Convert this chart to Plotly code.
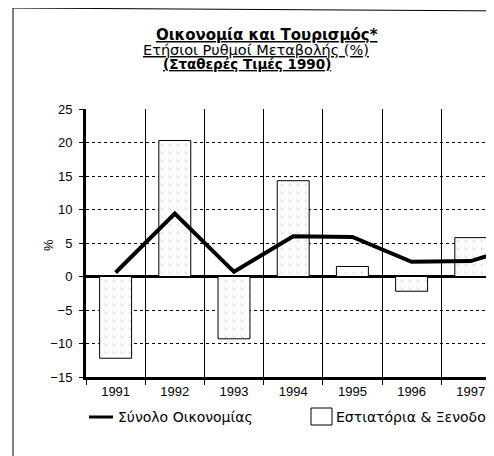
import plotly.graph_objects as go

# Data (annual % change, constant 1990 prices)
years = ["1991", "1992", "1993", "1994", "1995", "1996", "1997", "1998"]
economy_total = [0.6, 9.4, 0.7, 6.0, 5.9, 2.2, 2.3, 5.0]
hotels_restaurants = [-12.2, 20.3, -9.3, 14.3, 1.5, -2.2, 5.8, None]

y_ticks = [-15, -10, -5, 0, 5, 10, 15, 20, 25]
y_grid = [-10, -5, 5, 10, 15, 20]

FONT = "Liberation Sans, Arial, sans-serif"
WIDE = "DejaVu Sans, sans-serif"

# the page body has an 8px margin, so the figure sits 8px right/down in the window
OFF = 8
W, H = 494, 456
L, R, T, B = 86 - OFF, 0, 109 - OFF, H - (377 - OFF)
PW, PH = W - L - R, H - T - B
CAT_W = 59.2  # px per year on the scan


def px_x(px):
    # window pixel -> paper coordinate
    return (px - OFF - L) / PW


def px_y(py):
    return (H - B - (py - OFF)) / PH


fig = go.Figure()

fig.add_trace(
    go.Bar(
        x=years,
        y=hotels_restaurants,
        width=0.54,
        marker=dict(
            color="#fdfdfd",
            line=dict(color="black", width=1),
            pattern=dict(shape=".", fgcolor="#cfcfcf", bgcolor="#fdfdfd", size=8, solidity=0.1),
        ),
        showlegend=False,
    )
)

fig.add_trace(
    go.Scatter(
        x=years,
        y=economy_total,
        mode="lines",
        line=dict(color="black", width=4),
        showlegend=False,
    )
)

fig.update_xaxes(
    type="category",
    range=[-0.5, PW / CAT_W - 0.5],
    automargin=False,
    tickson="boundaries",
    showgrid=True,
    gridcolor="black",
    gridwidth=1,
    ticks="outside",
    ticklen=5,
    tickcolor="black",
    showline=True,
    linecolor="black",
    linewidth=3,
    tickfont=dict(family=FONT, size=13, color="black"),
    zeroline=False,
)

fig.update_yaxes(
    range=[-15, 25],
    automargin=False,
    tickvals=y_ticks,
    showgrid=False,
    ticks="outside",
    ticklen=4,
    tickcolor="black",
    showline=True,
    linecolor="black",
    linewidth=3,
    zeroline=True,
    zerolinecolor="black",
    zerolinewidth=3,
    tickfont=dict(family=FONT, size=13, color="black"),
    ticklabelstandoff=4,
    minor=dict(tickvals=y_grid, showgrid=True, gridcolor="black", gridwidth=1, griddash="dot", ticks=""),
)

# Outer frame of the scanned page
fig.add_shape(type="line", xref="paper", yref="paper",
              x0=px_x(13), x1=px_x(13), y0=px_y(8), y1=px_y(H + 20),
              line=dict(color="black", width=1))
fig.add_shape(type="line", xref="paper", yref="paper",
              x0=px_x(13), x1=px_x(W + 20), y0=px_y(8), y1=px_y(11),
              line=dict(color="black", width=1))

# Titles
titles = [
    ("<u><b>Οικονομία και Τουρισμός*</b></u>", 267, 35, 15),
    ("<u>Ετήσιοι Ρυθμοί Μεταβολής (%)</u>", 256, 50, 14.5),
    ("<u><b>(Σταθερές Τιμές 1990)</b></u>", 247, 64, 13.5),
]
for text, cx, cy, size in titles:
    fig.add_annotation(text=text, xref="paper", yref="paper", x=px_x(cx), y=px_y(cy),
                       xanchor="center", yanchor="middle", showarrow=False,
                       font=dict(family=WIDE, size=size, color="black"))

# Y axis label
fig.add_annotation(text="%", xref="paper", yref="paper", x=px_x(48), y=px_y(245),
                   xanchor="center", yanchor="middle", showarrow=False, textangle=-90,
                   font=dict(family=FONT, size=13, color="black"))

# Legend (drawn by hand, second entry runs off the page as in the scan)
fig.add_shape(type="line", xref="paper", yref="paper",
              x0=px_x(89), x1=px_x(113), y0=px_y(417), y1=px_y(417),
              line=dict(color="black", width=3))
fig.add_annotation(text="Σύνολο Οικονομίας", xref="paper", yref="paper", x=px_x(116), y=px_y(417),
                   xanchor="left", yanchor="middle", showarrow=False,
                   font=dict(family=WIDE, size=14, color="black"))
fig.add_shape(type="rect", xref="paper", yref="paper",
              x0=px_x(311), x1=px_x(332), y0=px_y(425), y1=px_y(408),
              line=dict(color="black", width=1), fillcolor="white")
fig.add_annotation(text="Εστιατόρια & Ξενοδοχεία", xref="paper", yref="paper", x=px_x(334), y=px_y(417),
                   xanchor="left", yanchor="middle", showarrow=False,
                   font=dict(family=WIDE, size=14, color="black"))

fig.update_layout(
    width=W,
    height=H,
    margin=dict(l=L, r=R, t=T, b=B),
    paper_bgcolor="white",
    plot_bgcolor="white",
    font=dict(family=FONT, color="black"),
)

fig.write_html("out.html")
